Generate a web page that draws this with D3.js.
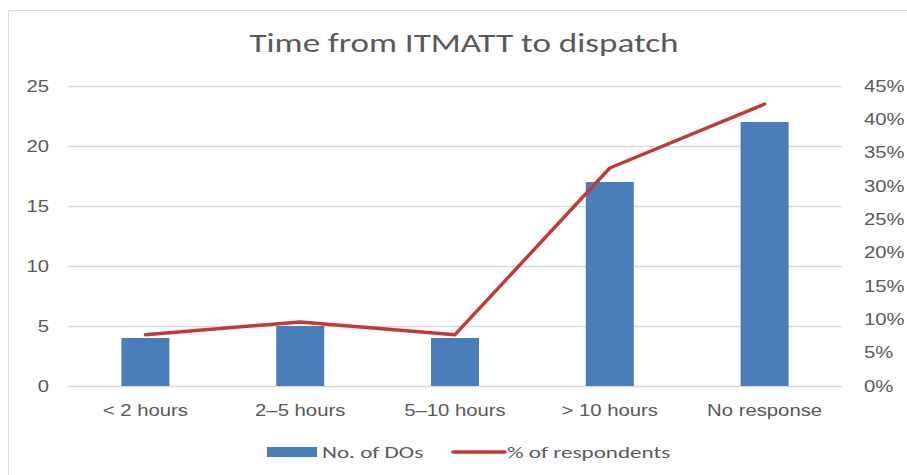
<!DOCTYPE html>
<html>
<head>
<meta charset="utf-8">
<script src="https://cdn.jsdelivr.net/npm/d3@7"></script>
<style>
  html, body { margin: 0; padding: 0; background: #fff; }
  svg { display: block; font-family: Carlito, Lato, "Open Sans", sans-serif; }
  .tick text { fill: #595959; font-size: 16.5px; }
</style>
</head>
<body>
<svg id="chart" width="907" height="475"></svg>
<script>
/* Time from ITMATT to dispatch: bars = no. of DOs (left axis),
   line = % of respondents (right axis). */

const categories = ["< 2 hours", "2\u20135 hours", "5\u201310 hours", "> 10 hours", "No response"];
const dos = [4, 5, 4, 17, 22];
const pctRespondents = [7.7, 9.6, 7.7, 32.7, 42.3];
const leftTicks = [0, 5, 10, 15, 20, 25];
const rightTicks = [0, 5, 10, 15, 20, 25, 30, 35, 40, 45];

const W = 907, H = 475;
const m = { left: 68, right: 65, top: 86, bottom: 89 };
const BLUE = "#4a7ebb", RED = "#be3b37", GREY = "#595959";

const svg = d3.select("#chart");

// the source picture is stretched sideways, so text is widened to match
function stretch(sel, sx) {
  sel.each(function () {
    const t = d3.select(this);
    const x0 = +t.attr("x") || 0;
    t.attr("x", 0).attr("transform", `translate(${x0},0) scale(${sx},1)`);
  });
}

// frame: only the left and top edges show in the crop
svg.append("path").attr("d", `M8.5,${H} V10.5 H${W}`)
  .attr("fill", "none").attr("stroke", "#d9d9d9").attr("stroke-width", 1);

const title = svg.append("text").attr("x", 464).attr("y", 52).attr("text-anchor", "middle")
  .attr("fill", GREY).attr("font-size", "26px").text("Time from ITMATT to dispatch");
stretch(title, 1.35);

const x = d3.scaleBand().domain(categories).range([m.left, W - m.right]).paddingInner(0.69).paddingOuter(0.345);
const yL = d3.scaleLinear().domain([0, 25]).range([H - m.bottom, m.top]);
const yR = d3.scaleLinear().domain([0, 45]).range([H - m.bottom, m.top]);

// gridlines
svg.append("g").selectAll("line").data(leftTicks).join("line")
  .attr("x1", m.left).attr("x2", W - m.right)
  .attr("y1", (d) => Math.round(yL(d)) + 0.5).attr("y2", (d) => Math.round(yL(d)) + 0.5)
  .attr("stroke", "#d9d9d9").attr("stroke-width", 1.5);

// axes
const axL = svg.append("g").attr("transform", `translate(${m.left},0)`)
  .call(d3.axisLeft(yL).tickValues(leftTicks).tickSize(0).tickPadding(19));
const axR = svg.append("g").attr("transform", `translate(${W - m.right},0)`)
  .call(d3.axisRight(yR).tickValues(rightTicks).tickSize(0).tickPadding(22).tickFormat((d) => d + "%"));
const axB = svg.append("g").attr("transform", `translate(0,${H - m.bottom})`)
  .call(d3.axisBottom(x).tickSize(0).tickPadding(18));
[axL, axR, axB].forEach((a) => { a.select(".domain").remove(); stretch(a.selectAll("text"), 1.23); });

// bars
svg.append("g").selectAll("rect").data(dos).join("rect")
  .attr("x", (d, i) => x(categories[i])).attr("width", x.bandwidth())
  .attr("y", (d) => yL(d)).attr("height", (d) => yL(0) - yL(d))
  .attr("fill", BLUE);

// line
const line = d3.line().x((d, i) => x(categories[i]) + x.bandwidth() / 2).y((d) => yR(d));
svg.append("path").datum(pctRespondents).attr("d", line)
  .attr("fill", "none").attr("stroke", RED).attr("stroke-width", 3.5)
  .attr("stroke-linejoin", "round").attr("stroke-linecap", "round");

// legend
const lg = svg.append("g").attr("transform", "translate(0,452)");
lg.append("rect").attr("x", 267).attr("y", -5).attr("width", 50).attr("height", 10).attr("fill", BLUE);
lg.append("line").attr("x1", 453).attr("x2", 505).attr("y1", 0).attr("y2", 0)
  .attr("stroke", RED).attr("stroke-width", 3.5).attr("stroke-linecap", "round");
const lt = lg.selectAll("text.lab").data([["No. of DOs", 322], ["% of respondents", 507]]).join("text")
  .attr("class", "lab").attr("x", (d) => d[1]).attr("y", 5.5)
  .attr("fill", GREY).attr("font-size", "17px").text((d) => d[0]);
stretch(lt, 1.36);
</script>
</body>
</html>
